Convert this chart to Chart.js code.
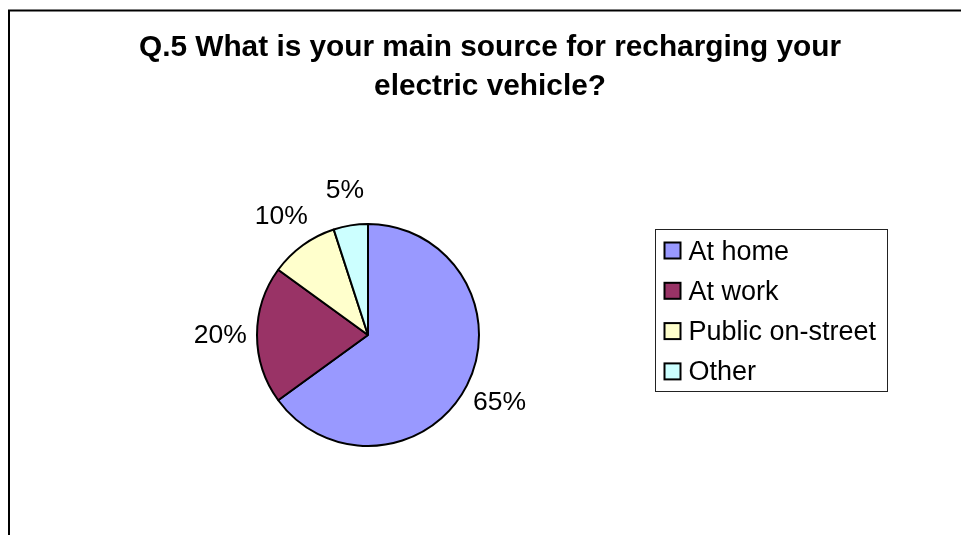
<!DOCTYPE html>
<html>
<head>
<meta charset="utf-8">
<title>Q.5 Recharging source</title>
<script src="https://cdn.jsdelivr.net/npm/chart.js@4.4.1/dist/chart.umd.min.js"></script>
<style>
  html, body { margin: 0; padding: 0; background: #fff; }
  #wrap { position: relative; width: 961px; height: 535px; }
</style>
</head>
<body>
<div id="wrap"><canvas id="pieChart" width="961" height="535"></canvas></div>
<script>
// Survey answers
const titleLines = ['Q.5 What is your main source for recharging your', 'electric vehicle?'];
const sources = ['At home', 'At work', 'Public on-street', 'Other'];
const shares = [65, 20, 10, 5];
const sliceColors = ['#9999ff', '#993366', '#ffffcc', '#ccffff'];

const FONT = '"Liberation Sans", Arial, Helvetica, sans-serif';

// Frame, title, outside labels and boxed legend
const decorPlugin = {
    id: 'decor',
    afterDraw(chart) {
        const ctx = chart.ctx;
        ctx.save();

        // outer frame (only left and top edges are in view)
        ctx.strokeStyle = '#000';
        ctx.lineWidth = 2;
        ctx.beginPath();
        ctx.moveTo(9, 600);
        ctx.lineTo(9, 10.5);
        ctx.lineTo(1000, 10.5);
        ctx.stroke();

        // title
        ctx.fillStyle = '#000';
        ctx.font = 'bold 29.8px ' + FONT;
        ctx.textAlign = 'center';
        ctx.textBaseline = 'alphabetic';
        ctx.fillText(titleLines[0], 490, 56);
        ctx.fillText(titleLines[1], 490, 95);

        // percentage labels outside each slice
        const meta = chart.getDatasetMeta(0);
        const values = chart.data.datasets[0].data;
        ctx.font = '26.5px ' + FONT;
        ctx.textBaseline = 'middle';
        meta.data.forEach((arc, i) => {
            const p = arc.getProps(['x', 'y', 'startAngle', 'endAngle', 'outerRadius'], true);
            const mid = (p.startAngle + p.endAngle) / 2;
            const d = p.outerRadius * 1.33;
            ctx.fillText(values[i] + '%', p.x + Math.cos(mid) * d, p.y + Math.sin(mid) * d + 1);
        });

        // legend box
        ctx.lineWidth = 1;
        ctx.strokeStyle = '#222';
        ctx.strokeRect(655.5, 229.5, 232, 162);
        ctx.textAlign = 'left';
        ctx.textBaseline = 'alphabetic';
        ctx.font = '27px ' + FONT;
        chart.data.labels.forEach((label, i) => {
            const cy = 250.5 + i * 40.3;
            ctx.fillStyle = chart.data.datasets[0].backgroundColor[i];
            ctx.fillRect(664.5, cy - 8, 16, 16);
            ctx.lineWidth = 2;
            ctx.strokeStyle = '#000';
            ctx.strokeRect(664.5, cy - 8, 16, 16);
            ctx.fillStyle = '#000';
            ctx.fillText(label, 688.5, cy + 9);
        });

        ctx.restore();
    }
};

new Chart(document.getElementById('pieChart'), {
    type: 'pie',
    data: {
        labels: sources,
        datasets: [{
            data: shares,
            backgroundColor: sliceColors,
            borderColor: '#000',
            borderWidth: 2,
            radius: 111
        }]
    },
    options: {
        responsive: false,
        animation: false,
        layout: {
            padding: { left: 150, right: 375, top: 200, bottom: 65 }
        },
        plugins: {
            legend: { display: false },
            title: { display: false },
            tooltip: { enabled: false }
        }
    },
    plugins: [decorPlugin]
});
</script>
</body>
</html>
